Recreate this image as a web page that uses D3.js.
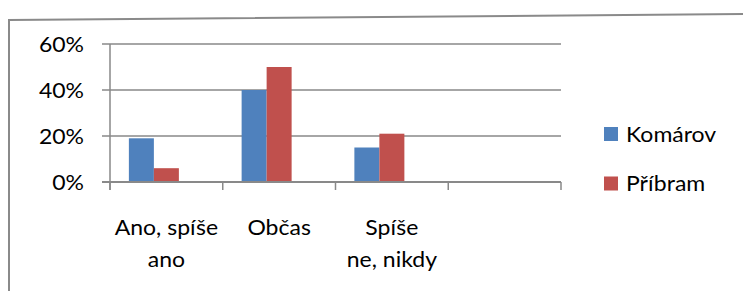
<!DOCTYPE html>
<html>
<head>
<meta charset="utf-8">
<script src="https://cdn.jsdelivr.net/npm/d3@7"></script>
<style>
  html, body { margin: 0; padding: 0; background: #fff; }
  svg { display: block; }
  text { font-family: Lato, "Open Sans", sans-serif; fill: #000; }
</style>
</head>
<body>
<svg id="chart" width="744" height="291"></svg>
<script>
// Categories (4th slot is empty in the source chart)
var categories = ["Ano, spíše ano", "Občas", "Spíše ne, nikdy", ""];
var categoryLines = [["Ano, spíše", "ano"], ["Občas"], ["Spíše", "ne, nikdy"], []];

// Series
var seriesNames = ["Komárov", "Příbram"];
var seriesColors = ["#4f81bd", "#c0504d"];
var komarov = [0.19, 0.40, 0.15, null];
var pribram = [0.06, 0.50, 0.21, null];

// the chart keeps room for a third (empty) series in each group
var seriesSlots = 3;

var yTicks = [0, 0.2, 0.4, 0.6];

var GRID = "#898989",
	FS = "21.5px",
	SX = 1.07; // the source text is rendered a bit wider than it is tall

var svg = d3.select("#chart");

// outer chart frame (slightly tilted in the source picture)
svg.append("path")
	.attr("d", "M9,291 L9,20 L743,14")
	.attr("fill", "none")
	.attr("stroke", "#8a8a8a")
	.attr("stroke-width", 2);

var x = d3.scaleBand()
	.domain(categories)
	.range([110, 561])
	.paddingInner(0)
	.paddingOuter(0);

var xs = d3.scaleBand()
	.domain(d3.range(seriesSlots))
	.range([0, x.bandwidth()])
	.paddingInner(0)
	.paddingOuter(0.755);

var y = d3.scaleLinear()
	.domain([0, 0.6])
	.range([182, 44]);

// gridlines + y ticks
svg.append("g")
	.selectAll("line")
	.data(yTicks)
	.enter()
	.append("line")
	.attr("x1", 102)
	.attr("x2", 561)
	.attr("y1", function(d){ return y(d); })
	.attr("y2", function(d){ return y(d); })
	.attr("stroke", GRID)
	.attr("stroke-width", 1.5);

// bars
var series = [komarov, pribram];
series.forEach(function(values, si){
	svg.append("g")
		.selectAll("rect")
		.data(values.map(function(v, i){ return { cat: categories[i], v: v }; })
			.filter(function(d){ return d.v != null; }))
		.enter()
		.append("rect")
		.attr("x", function(d){ return x(d.cat) + xs(si); })
		.attr("width", xs.bandwidth())
		.attr("y", function(d){ return y(d.v); })
		.attr("height", function(d){ return y(0) - y(d.v); })
		.attr("fill", seriesColors[si]);
});

// y axis line
svg.append("line")
	.attr("x1", 110).attr("x2", 110)
	.attr("y1", y(0.6)).attr("y2", 190)
	.attr("stroke", GRID)
	.attr("stroke-width", 1.5);

// x axis line
svg.append("line")
	.attr("x1", 102).attr("x2", 561)
	.attr("y1", y(0)).attr("y2", y(0))
	.attr("stroke", GRID)
	.attr("stroke-width", 2);

// category tick marks
var tickXs = categories.map(function(c){ return x(c); }).concat([x.range()[1]]);
svg.append("g")
	.selectAll("line")
	.data(tickXs)
	.enter()
	.append("line")
	.attr("x1", function(d){ return d; })
	.attr("x2", function(d){ return d; })
	.attr("y1", y(0))
	.attr("y2", 190)
	.attr("stroke", GRID)
	.attr("stroke-width", 1.5);

// y tick labels
var fmt = d3.format(".0%");
svg.append("g")
	.selectAll("text")
	.data(yTicks)
	.enter()
	.append("text")
	.attr("transform", function(d){ return "translate(84," + y(d) + ") scale(" + SX + ",1)"; })
	.attr("text-anchor", "end")
	.attr("dy", "0.35em")
	.style("font-size", FS)
	.text(fmt);

// category labels
categories.forEach(function(c, i){
	var cx = x(c) + x.bandwidth() / 2;
	categoryLines[i].forEach(function(line, li){
		svg.append("text")
			.attr("transform", "translate(" + cx + "," + (234.5 + li * 32.5) + ") scale(" + SX + ",1)")
			.attr("text-anchor", "middle")
			.style("font-size", FS)
			.text(line);
	});
});

// legend
var legend = svg.append("g")
	.selectAll("g")
	.data(seriesNames)
	.enter()
	.append("g")
	.attr("transform", function(d, i){ return "translate(604," + (134 + i * 49.5) + ")"; });

legend.append("rect")
	.attr("x", 0)
	.attr("y", -7)
	.attr("width", 14)
	.attr("height", 14)
	.attr("fill", function(d, i){ return seriesColors[i]; });

legend.append("text")
	.attr("transform", "translate(22,0) scale(" + SX + ",1)")
	.attr("dy", "0.35em")
	.style("font-size", FS)
	.text(function(d){ return d; });
</script>
</body>
</html>
